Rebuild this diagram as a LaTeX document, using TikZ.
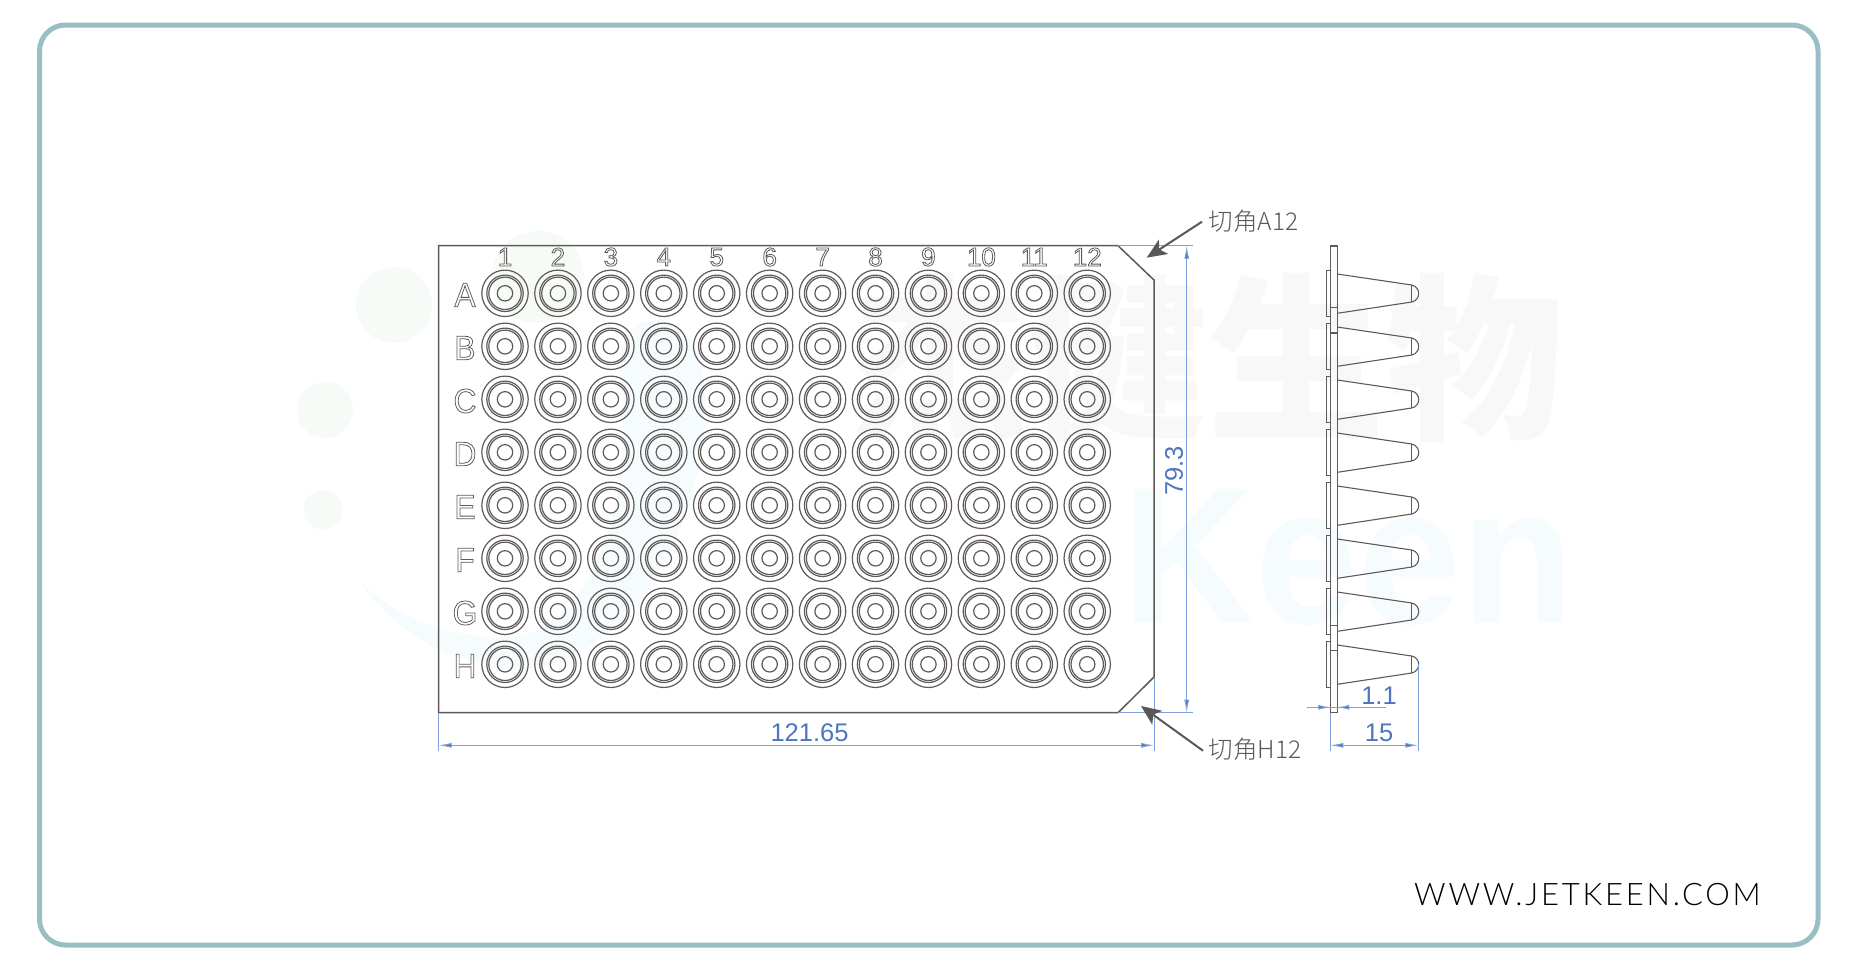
\documentclass[tikz,border=0pt]{standalone}
\usepackage{fontspec}
\usetikzlibrary{arrows.meta}
\setmainfont{Liberation Sans}
\newfontfamily\cjk{Noto Sans CJK SC}
\newfontfamily\cjklight{Noto Sans CJK SC Light}
\newfontfamily\webfont[LetterSpace=9]{Lato Light}
\definecolor{frameC}{HTML}{98BFC4}
\definecolor{inkC}{HTML}{5F5A58}
\definecolor{dimC}{HTML}{7F9FD8}
\definecolor{dimT}{HTML}{4F75BE}
\definecolor{noteC}{HTML}{595757}
\definecolor{wmG}{HTML}{F6FBF7}
\definecolor{wmB}{HTML}{F6FBFE}
\definecolor{wmK}{HTML}{F8F8F8}
\newcommand{\outl}[1]{\special{pdf:code 1 Tr 0.8 w}#1\special{pdf:code 0 Tr 1 w}}
\tikzset{
  plateline/.style={draw=inkC,line width=1.5pt},
  wellline/.style={draw=inkC,line width=1.2pt},
  tubeline/.style={draw=inkC,line width=1.1pt},
  dimline/.style={draw=dimC,line width=0.9pt},
  dimarrow/.style={dimline,{Latex[length=13pt,width=5pt,fill=dimT]}-{Latex[length=13pt,width=5pt,fill=dimT]}},
  dimtext/.style={text=dimT,inner sep=0pt,font=\fontsize{25.5}{26}\selectfont},
  notetext/.style={text=noteC,inner sep=0pt,anchor=west,font=\cjklight\fontsize{24.5}{25}\selectfont},
  notearrow/.style={draw=noteC,line width=2pt,-{Stealth[length=20pt,width=17pt,inset=5pt]}},
  collabel/.style={text=inkC,inner sep=0pt,font=\fontsize{26}{26}\selectfont},
  rowlabel/.style={text=inkC,inner sep=0pt,xscale=0.93,font=\fontsize{34}{34}\selectfont},
}
\begin{document}
\begin{tikzpicture}[x=1pt,y=-1pt]
\useasboundingbox (0,0) rectangle (1857,970);
\fill[white] (0,0) rectangle (1857,970);
% watermark
\fill[wmG] (394,305) circle[radius=38];
\fill[wmG] (325,410) circle[radius=28];
\fill[wmG] (323,510) circle[radius=19.5];
\fill[wmG] (538,277) circle[radius=46];
\fill[wmB] (361,583) .. controls (400,640) and (470,672) .. (530,668)
  .. controls (620,660) and (705,540) .. (705,400)
  .. controls (705,345) and (680,320) .. (655,320)
  .. controls (630,320) and (612,345) .. (622,400)
  .. controls (632,500) and (590,640) .. (500,638)
  .. controls (450,636) and (400,620) .. cycle;
\node[text=wmK,inner sep=0pt,font=\cjk\bfseries\fontsize{178}{178}\selectfont] (wmcn) at (1207,358) {杰健生物};
\node[text=wmB,inner sep=0pt,anchor=base west,xscale=0.95,font=\bfseries\fontsize{195}{195}\selectfont] (wmen) at (1122,623) {Keen};
% frame
\draw[frameC,line width=5pt,rounded corners=26pt] (39.5,25) rectangle (1818,945);
% plate
\draw[plateline] (438.7,245.7) -- (1118,245.7) -- (1154,280) -- (1154,677) -- (1118,712.7) -- (438.7,712.7) -- cycle;
\foreach \r in {0,...,7}{
  \foreach \c in {0,...,11}{
    \pgfmathsetmacro{\wx}{505+52.93*\c}
    \pgfmathsetmacro{\wy}{293.3+53*\r}
    \draw[wellline] (\wx,\wy) circle[radius=23.2];
    \draw[wellline] (\wx,\wy) circle[radius=18.2];
    \draw[wellline] (\wx,\wy) circle[radius=16.2];
    \draw[wellline] (\wx,\wy) circle[radius=7.7];
  }
}
\foreach \c in {1,...,12}{
  \pgfmathsetmacro{\wx}{505+52.93*(\c-1)}
  \node[collabel] (col\c) at (\wx,257) {\outl{\c}};
}
\foreach \l [count=\i from 0] in {A,B,C,D,E,F,G,H}{
  \pgfmathsetmacro{\wy}{295+53*\i}
  \node[rowlabel] (row\l) at (465,\wy) {\outl{\l}};
}
% side view
\draw[tubeline] (1330.3,246) rectangle (1337.3,712.7);
\foreach \i in {0,...,7}{
  \pgfmathsetmacro{\dy}{53*\i}
  \begin{scope}[yshift=-\dy pt]
    \draw[tubeline] (1326.3,270.7) rectangle (1330.3,316.7);
    \draw[tubeline] (1337.3,274) -- (1411.7,285)
       .. controls (1421,287) and (1421,300) .. (1411.7,302) -- (1337.3,313.3);
    \draw[tubeline] (1411.7,285) -- (1411.7,302);
  \end{scope}
}
\draw[tubeline] (1330.3,307.7) -- (1337.3,307.7);
\draw[tubeline] (1330.3,333) -- (1337.3,333);
\draw[tubeline] (1330.3,625.7) -- (1337.3,625.7);
\draw[tubeline] (1330.3,650.7) -- (1337.3,650.7);
% dimensions
\draw[dimline] (1118,245.7) -- (1192.7,245.7);
\draw[dimline] (1118,712.7) -- (1192.7,712.7);
\draw[dimarrow] (1186.7,245.7) -- (1186.7,712.7);
\node[dimtext,rotate=90] (d793) at (1174,470.7) {79.3};
\draw[dimline] (438.7,712.7) -- (438.7,751);
\draw[dimline] (1154,677) -- (1154,751);
\draw[dimarrow] (438.7,745.3) -- (1154,745.3);
\node[dimtext] (d121) at (809.5,733) {121.65};
\draw[dimline] (1330.3,712.7) -- (1330.3,751);
\draw[dimline] (1418.3,664) -- (1418.3,751);
\draw[dimarrow] (1330.3,745.3) -- (1418.3,745.3);
\node[dimtext] (d15) at (1379,733) {15};
\draw[dimline] (1306.7,707.3) -- (1386,707.3);
\draw[dimline,-{Latex[length=12pt,width=5pt,fill=dimT]}] (1306.7,707.3) -- (1330.3,707.3);
\draw[dimline,-{Latex[length=12pt,width=5pt,fill=dimT]}] (1360,707.3) -- (1337.3,707.3);
\node[dimtext] (d11) at (1379,695.5) {1.1};
% notes
\coordinate (tipA) at (1146.7,257.7);
\coordinate (tipH) at (1141,706);
\node[notetext] (noteA) at (1208.5,221.7) {切角A12};
\node[notetext] (noteH) at (1208.5,749.3) {切角H12};
\draw[notearrow] (1202,221.7) -- (tipA);
\draw[notearrow] (1203,750.7) -- (tipH);
% web
\node[text=black,inner sep=0pt,anchor=base west,font=\webfont\fontsize{31}{31}\selectfont] (web) at (1414,905) {WWW.JETKEEN.COM};
\end{tikzpicture}
\end{document}
